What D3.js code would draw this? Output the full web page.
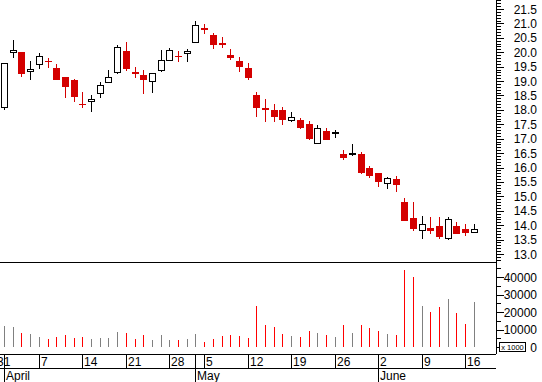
<!DOCTYPE html>
<html><head><meta charset="utf-8">
<script src="https://cdn.jsdelivr.net/npm/d3@7"></script>
<style>html,body{margin:0;padding:0;background:#fff;}svg{display:block;}text{font-family:"Liberation Sans",Arial,sans-serif;}</style>
</head><body>
<script>
const openV  = [18.09,20.00,20.01,19.36,19.58,19.70,19.45,19.13,19.04,18.21,18.30,18.57,18.97,19.30,20.04,19.31,19.20,18.99,19.39,19.72,19.88,19.96,20.34,20.84,20.60,20.32,19.90,19.70,19.45,18.52,18.06,18.00,18.00,17.66,17.65,17.51,16.84,17.27,17.20,16.47,16.47,16.47,15.99,15.81,15.45,15.60,14.80,14.24,13.82,13.90,13.97,13.55,13.96,13.87,13.75];
const highV  = [19.62,20.42,20.01,19.70,19.97,19.80,19.58,19.13,19.07,18.62,18.52,18.96,19.38,20.25,20.35,19.48,19.38,19.27,20.08,20.15,20.04,20.11,21.08,20.98,20.66,20.52,20.11,19.85,19.64,18.62,18.39,18.20,18.10,17.93,17.71,17.60,17.48,17.36,17.31,16.61,16.82,16.53,16.05,15.81,15.67,15.71,14.93,14.80,14.31,14.28,14.28,14.29,14.11,14.03,14.03];
const lowV   = [18.02,19.82,19.19,19.08,19.44,19.50,19.07,18.45,18.32,18.10,17.95,18.44,18.97,19.27,19.37,19.15,18.60,18.63,19.36,19.72,19.70,19.70,20.34,20.68,20.16,20.19,19.77,19.35,19.07,17.79,17.62,17.62,17.52,17.62,17.38,16.99,16.84,16.98,17.07,16.28,16.44,15.82,15.66,15.37,15.30,15.20,14.19,13.84,13.56,13.74,13.56,13.51,13.74,13.67,13.75];
const closeV = [19.62,20.08,19.29,19.42,19.86,19.68,19.07,18.84,18.49,18.19,18.37,18.85,19.13,20.17,19.46,19.29,19.08,19.27,19.72,20.07,19.86,20.03,20.93,20.82,20.30,20.30,19.82,19.53,19.15,18.11,18.04,17.80,17.69,17.74,17.42,17.03,17.36,16.98,17.22,16.38,16.49,15.85,15.74,15.54,15.63,15.44,14.19,13.91,14.03,13.84,13.63,14.20,13.74,13.75,13.86];
const volumeV = [12200,11600,8200,7400,5900,4800,5700,6900,5300,5500,4600,5300,5300,8700,8200,4600,7000,4000,6900,4200,4200,4600,7400,3000,4800,6300,6900,6500,5200,23600,12400,11300,7400,6300,5700,9200,8000,6900,5700,12400,8000,12400,10800,9200,7400,6900,44000,40200,23600,20200,23000,27600,19600,13300,25700];
const weekTickIdx = [-1,4,9,14,19,23,28,33,38,43,48,53];
const weekLabels = ["31","7","14","21","28","5","12","19","26","2","9","16"];
const monthIdx = [0,22,43];
const monthLabels = ["April","May","June"];
const priceTicks = [13.0,13.5,14.0,14.5,15.0,15.5,16.0,16.5,17.0,17.5,18.0,18.5,19.0,19.5,20.0,20.5,21.0,21.5];
const volTicks = [0,10000,20000,30000,40000];

const W=542,H=382, AX=496;
const RED="#d40000", VRED="#ff0000", VGRAY="#808080";
const svg=d3.select("body").append("svg").attr("width",W).attr("height",H);
svg.append("rect").attr("width",W).attr("height",H).attr("fill","#fff");

const x=d3.scaleLinear().domain([0,54]).range([4,473.8]);
const px=i=>Math.round(x(i));
const yP=d3.scaleLinear().domain([13,21.5]).range([254,9]);
const yV=d3.scaleLinear().domain([0,40000]).range([347,277]);

// frame lines
const fr=svg.append("g").attr("stroke","#000").attr("stroke-width",1).attr("shape-rendering","crispEdges");
fr.append("line").attr("x1",0).attr("x2",AX).attr("y1",262.5).attr("y2",262.5);
fr.append("line").attr("x1",0).attr("x2",AX).attr("y1",354.5).attr("y2",354.5);
fr.append("line").attr("x1",0).attr("x2",AX).attr("y1",368.5).attr("y2",368.5);

// price axis
const pMinor=d3.range(128,219).map(v=>v/10).filter(v=>yP(v)>=0&&yP(v)<=262);
const pAxis=d3.axisRight(yP).tickValues(pMinor).tickSize(4).tickFormat("");
const gp=svg.append("g").attr("transform",`translate(${AX+0.5},0.5)`).call(pAxis);
gp.select(".domain").remove();
gp.selectAll(".tick").attr("transform",d=>`translate(0,${Math.round(yP(d))})`);
gp.selectAll(".tick line").attr("x2",d=>Math.abs(d*2-Math.round(d*2))<1e-6?7:4).attr("shape-rendering","crispEdges");
svg.append("line").attr("x1",AX+0.5).attr("x2",AX+0.5).attr("y1",0).attr("y2",354).attr("stroke","#000").attr("shape-rendering","crispEdges");
svg.append("g").selectAll("text").data(priceTicks).join("text")
  .attr("x",537).attr("y",d=>yP(d)+4.5).attr("text-anchor","end").attr("font-size",12).attr("fill","#000")
  .text(d=>d.toFixed(1));

// volume axis
const vMinor=d3.range(0,50000,5000).filter(v=>yV(v)>=263);
const gv=svg.append("g").attr("transform",`translate(${AX+0.5},0.5)`).call(d3.axisRight(yV).tickValues(vMinor).tickSize(4).tickFormat(""));
gv.select(".domain").remove();
gv.selectAll(".tick").attr("transform",d=>`translate(0,${Math.round(yV(d))})`);
gv.selectAll(".tick line").attr("x2",d=>d%10000===0?7:4).attr("shape-rendering","crispEdges");
svg.append("g").selectAll("text").data(volTicks).join("text")
  .attr("x",537).attr("y",d=>yV(d)+4.5).attr("text-anchor","end").attr("font-size",12).attr("fill","#000")
  .text(d=>d);
svg.append("rect").attr("x",499.5).attr("y",342.5).attr("width",26).attr("height",9).attr("fill","#fff").attr("stroke","#000").attr("shape-rendering","crispEdges");
svg.append("text").attr("x",512.5).attr("y",350).attr("text-anchor","middle").attr("font-size",7.5).text("x 1000");

// volume bars
svg.append("g").attr("shape-rendering","crispEdges").selectAll("line").data(volumeV).join("line")
  .attr("x1",(d,i)=>px(i)+0.5).attr("x2",(d,i)=>px(i)+0.5)
  .attr("y1",yV(0)).attr("y2",d=>Math.round(yV(d)))
  .attr("stroke",(d,i)=>closeV[i]>=openV[i]?VGRAY:VRED);

// candles
const cg=svg.append("g").attr("shape-rendering","crispEdges");
openV.forEach((o,i)=>{
  const c=closeV[i], up=c>=o, col=up?"#000":RED, cx=px(i)+0.5;
  cg.append("line").attr("x1",cx).attr("x2",cx).attr("y1",Math.round(yP(highV[i]))).attr("y2",Math.round(yP(lowV[i]))+1).attr("stroke",col);
  const t=Math.round(yP(Math.max(o,c))), b=Math.round(yP(Math.min(o,c)));
  if(b-t<1){
    cg.append("line").attr("x1",cx-3.5).attr("x2",cx+3.5).attr("y1",t+0.5).attr("y2",t+0.5).attr("stroke",col);
  } else {
    cg.append("rect").attr("x",cx-3).attr("y",t+0.5).attr("width",6).attr("height",b-t)
      .attr("fill",up?"#fff":RED).attr("stroke",col);
  }
});

// date axis
const dg=svg.append("g").attr("shape-rendering","crispEdges");
dg.selectAll("line.w").data(weekTickIdx).join("line").attr("class","w")
  .attr("x1",d=>px(d)+0.5).attr("x2",d=>px(d)+0.5).attr("y1",354).attr("y2",369).attr("stroke","#000");
dg.selectAll("line.m").data(monthIdx).join("line").attr("class","m")
  .attr("x1",d=>px(d)+0.5).attr("x2",d=>px(d)+0.5).attr("y1",354).attr("y2",382).attr("stroke","#000");
svg.append("g").selectAll("text").data(weekTickIdx).join("text")
  .attr("x",d=>px(d)+2).attr("y",366).attr("font-size",12).text((d,i)=>weekLabels[i]);
svg.append("g").selectAll("text").data(monthIdx).join("text")
  .attr("x",d=>px(d)+2).attr("y",380).attr("font-size",12).text((d,i)=>monthLabels[i]);
</script>
</body></html>
